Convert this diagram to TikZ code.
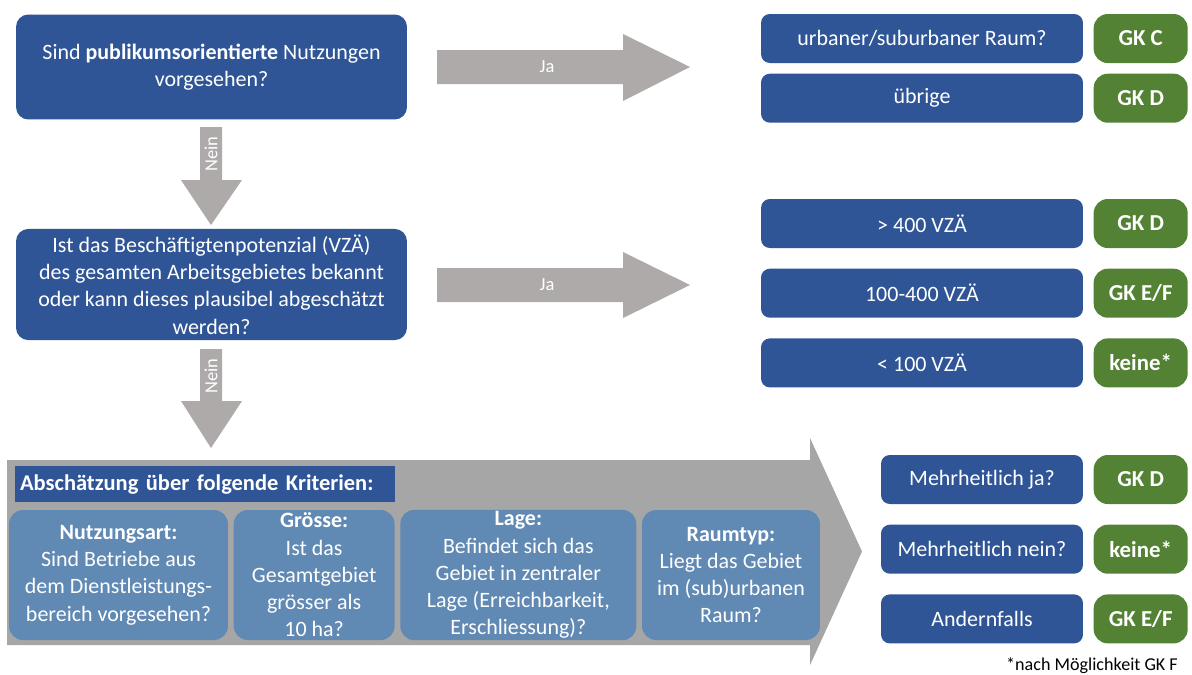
\documentclass[tikz,border=0pt]{standalone}
\usepackage{fontspec}
\setmainfont{Carlito}
\usetikzlibrary{positioning}
\definecolor{dunkelblau}{HTML}{2F5597}
\definecolor{gruen}{HTML}{548235}
\definecolor{hellblau}{HTML}{6089B3}
\definecolor{pfeilgrau}{HTML}{AEAAAA}
\definecolor{feldgrau}{HTML}{A6A6A6}
\begin{document}
\begin{tikzpicture}[x=0.02cm, y=-0.02cm, font=\fontsize{12.5}{15.5}\selectfont,
	frage/.style={rectangle, rounded corners=7pt, fill=dunkelblau, text=white, align=center,
		minimum width=7.82cm, minimum height=2.1cm},
	antwort/.style={rectangle, rounded corners=5pt, fill=dunkelblau, text=white, align=center,
		minimum height=0.98cm},
	gk/.style={rectangle, rounded corners=8pt, fill=gruen, text=white, font=\fontsize{13}{15}\selectfont\bfseries,
		minimum width=1.88cm, minimum height=0.98cm, inner xsep=1pt},
	kriterium/.style={rectangle, rounded corners=8pt, fill=hellblau, text=white, align=center,
		minimum height=2.6cm, inner sep=1pt},
	kopf/.style={rectangle, fill=dunkelblau, text=white, font=\fontsize{12.8}{15}\selectfont\bfseries,
		text width=7.4cm, align=left, minimum height=0.72cm, inner xsep=0.1cm},
	pfeil/.style={fill=pfeilgrau},
	pfeiltext/.style={text=white, font=\fontsize{10.5}{12}\selectfont}]
	\useasboundingbox[fill=white] (0,0) rectangle (1192,674);

	% Fragen links
	\node[frage] (q1) at (211.5,67) {Sind \textbf{publikumsorientierte} Nutzungen\\vorgesehen?};
	\node[frage] (q2) at (211.5,284.5) {Ist das Beschäftigtenpotenzial (VZÄ)\\des gesamten Arbeitsgebietes bekannt\\oder kann dieses plausibel abgeschätzt\\werden?};

	% Pfeile
	\fill[pfeil] (200,127) -- (222,127) -- (222,180) -- (242,180) -- (211,225) -- (181,180) -- (200,180) -- cycle;
	\node[pfeiltext, rotate=90] (nein1) at (211,154) {Nein};
	\fill[pfeil] (200,349) -- (222,349) -- (222,401) -- (242,401) -- (211,448) -- (181,401) -- (200,401) -- cycle;
	\node[pfeiltext, rotate=90] (nein2) at (211,376) {Nein};
	\fill[pfeil] (437,50) -- (623,50) -- (623,34) -- (690,67) -- (623,101) -- (623,84) -- (437,84) -- cycle;
	\node[pfeiltext] (ja1) at (547,67) {Ja};
	\fill[pfeil] (437,268) -- (623,268) -- (623,252) -- (690,285) -- (623,318) -- (623,302) -- (437,302) -- cycle;
	\node[pfeiltext] (ja2) at (547,285) {Ja};

	% Antworten oben
	\node[antwort, minimum width=6.44cm] (urban) at (922,38.5) {urbaner/suburbaner Raum?};
	\node[antwort, minimum width=6.44cm, below=0.2cm of urban] (uebrig) {übrige};
	\node[gk, right=0.2cm of urban] (gk1) {GK C};
	\node[gk, right=0.2cm of uebrig] (gk2) {GK D};

	% Antworten VZÄ
	\node[antwort, minimum width=6.44cm] (vz1) at (922,223.5) {> 400 VZÄ};
	\node[antwort, minimum width=6.44cm, below=0.4cm of vz1] (vz2) {100-400 VZÄ};
	\node[antwort, minimum width=6.44cm, below=0.4cm of vz2] (vz3) {< 100 VZÄ};
	\node[gk, right=0.2cm of vz1] (gk3) {GK D};
	\node[gk, right=0.2cm of vz2] (gk4) {GK E/F};
	\node[gk, right=0.2cm of vz3] (gk5) {keine*};

	% grosser Pfeil mit Kriterien
	\fill[feldgrau] (7,460) -- (810,460) -- (810,438) -- (862,551.5) -- (810,665) -- (810,645) -- (7,645) -- cycle;
	\node[kopf] (kopf) at (205,484) {Abschätzung über folgende Kriterien:};
	\node[kriterium, minimum width=4.38cm] (k1) at (118.5,575) {\textbf{Nutzungsart:}\\Sind Betriebe aus\\dem Dienstleistungs-\\bereich vorgesehen?};
	\node[kriterium, minimum width=3.22cm, right=0.1cm of k1] (k2) {\textbf{Grösse:}\\Ist das\\Gesamtgebiet\\grösser als\\10 ha?};
	\node[kriterium, minimum width=4.72cm, right=0.1cm of k2] (k3) {\textbf{Lage:}\\Befindet sich das\\Gebiet in zentraler\\Lage (Erreichbarkeit,\\Erschliessung)?};
	\node[kriterium, minimum width=3.56cm, right=0.1cm of k3] (k4) {\textbf{Raumtyp:}\\Liegt das Gebiet\\im (sub)urbanen\\Raum?};

	% Antworten unten
	\node[antwort, minimum width=4.04cm] (m1) at (982,479.5) {Mehrheitlich ja?};
	\node[antwort, minimum width=4.04cm, below=0.4cm of m1] (m2) {Mehrheitlich nein?};
	\node[antwort, minimum width=4.04cm, below=0.4cm of m2] (m3) {Andernfalls};
	\node[gk, right=0.2cm of m1] (gk6) {GK D};
	\node[gk, right=0.2cm of m2] (gk7) {keine*};
	\node[gk, right=0.2cm of m3] (gk8) {GK E/F};

	\node[anchor=base east, font=\fontsize{10.3}{12}\selectfont] (fn) at (1184,670) {*nach Möglichkeit GK F};
\end{tikzpicture}
\end{document}
